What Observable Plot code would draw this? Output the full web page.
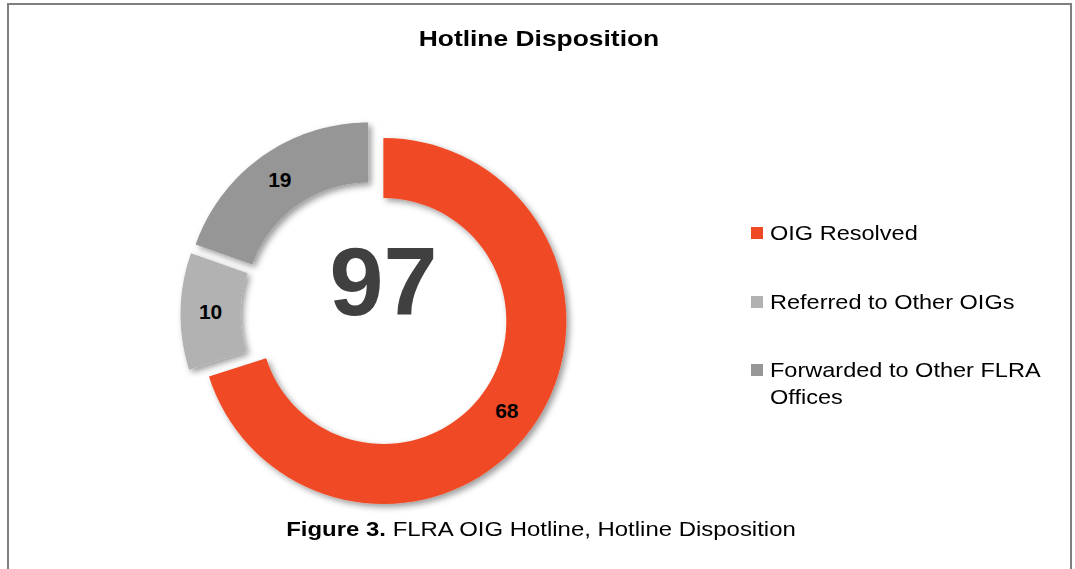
<!DOCTYPE html>
<html>
<head>
<meta charset="utf-8">
<script src="https://cdn.jsdelivr.net/npm/d3@7"></script>
<script src="https://cdn.jsdelivr.net/npm/@observablehq/plot@0.6"></script>
<style>
  html, body { margin: 0; padding: 0; background: #fff; width: 1075px; height: 569px; overflow: hidden; }
  body { font-family: "Liberation Sans", Arial, Helvetica, sans-serif; position: relative; }
  #frame { position: absolute; left: 7px; top: 3px; width: 1061px; height: 600px;
           border-left: 2px solid #7f7f7f; border-top: 2px solid #7f7f7f; border-right: 2px solid #7f7f7f; }
  #title { position: absolute; left: 0; top: 28.4px; width: 1078px; text-align: center;
           font-size: 22px; line-height: 22px; font-weight: bold; color: #000;
           transform: scaleX(1.2); transform-origin: 539px 0; }
  #chart { position: absolute; left: 154px; top: 93.5px; }
  .leg { position: absolute; left: 770px; width: 290px; font-size: 21px; line-height: 27px; color: #000;
         transform: scaleX(1.12); transform-origin: 0 0; }
  .sw { position: absolute; left: 751px; width: 12px; height: 12px; }
  #caption { position: absolute; left: 0; top: 518.2px; width: 1082px; text-align: center;
             font-size: 21px; line-height: 21px; color: #000;
             transform: scaleX(1.14); transform-origin: 541px 0; }
</style>
</head>
<body>
<div id="frame"></div>
<div id="title">Hotline Disposition</div>
<div id="chart"></div>
<div id="legend"></div>
<div id="caption"><b>Figure 3.</b> FLRA OIG Hotline, Hotline Disposition</div>
<script>
// ---- data ----
const categories = ["OIG Resolved", "Referred to Other OIGs", "Forwarded to Other FLRA Offices"];
const values = [68, 10, 19];
const colors = ["#EF4A25", "#B2B2B2", "#969696"];
const total = d3.sum(values);

// ---- geometry (unit radius) ----
const outerR = 1, innerR = 0.672, explode = 0.06, labelR = (outerR + innerR) / 2;
const arcs = d3.pie().sort(null)(values);
const pts = [];
const labels = [];
arcs.forEach((a, i) => {
  const mid = (a.startAngle + a.endAngle) / 2;
  const ox = explode * Math.sin(mid), oy = explode * Math.cos(mid);
  const n = 80;
  for (let k = 0; k <= n; k++) {
    const t = a.startAngle + (a.endAngle - a.startAngle) * k / n;
    pts.push({cat: categories[i], x: ox + outerR * Math.sin(t), y: oy + outerR * Math.cos(t)});
  }
  for (let k = n; k >= 0; k--) {
    const t = a.startAngle + (a.endAngle - a.startAngle) * k / n;
    pts.push({cat: categories[i], x: ox + innerR * Math.sin(t), y: oy + innerR * Math.cos(t)});
  }
  labels.push({label: String(values[i]), x: ox + labelR * Math.sin(mid), y: oy + labelR * Math.cos(mid)});
});

const size = 440, pxPerUnit = 183, half = size / 2 / pxPerUnit;
const font = '"Liberation Sans", Arial, Helvetica, sans-serif';

const plot = Plot.plot({
  width: size, height: size,
  margin: 0,
  x: {domain: [-half, half], axis: null},
  y: {domain: [-half, half], axis: null},
  color: {domain: categories, range: colors},
  style: {fontFamily: font, background: "transparent", overflow: "visible"},
  marks: [
    Plot.line(pts, {x: "x", y: "y", z: "cat", fill: "cat", stroke: "none", curve: "linear-closed"}),
    Plot.text(labels, {x: "x", y: "y", text: "label", fontSize: 21, fontWeight: "bold", fill: "#000", fontFamily: font}),
    Plot.text([{t: String(total)}], {x: () => 0, y: () => 0, text: "t", dx: 9, dy: -31, fontSize: 97, fontWeight: "bold", fill: "#404040", fontFamily: font})
  ]
});

// drop shadow for slices
const svgNS = "http://www.w3.org/2000/svg";
const defs = document.createElementNS(svgNS, "defs");
defs.innerHTML = '<filter id="shadow" x="-20%" y="-20%" width="140%" height="140%"><feDropShadow dx="3" dy="3" stdDeviation="3" flood-color="#000" flood-opacity="0.4"/></filter>';
plot.insertBefore(defs, plot.firstChild);
const lineG = plot.querySelector('g[aria-label="line"]');
if (lineG) lineG.setAttribute("filter", "url(#shadow)");
document.getElementById("chart").appendChild(plot);

// legend
const legend = document.getElementById("legend");
const baselines = [240, 309, 377];
categories.forEach((c, i) => {
  const sw = document.createElement("div");
  sw.className = "sw";
  sw.style.top = (baselines[i] - 13) + "px";
  sw.style.background = colors[i];
  legend.appendChild(sw);
  const t = document.createElement("div");
  t.className = "leg";
  t.style.top = (baselines[i] - 20.8) + "px";
  t.textContent = c;
  legend.appendChild(t);
});
</script>
</body>
</html>
